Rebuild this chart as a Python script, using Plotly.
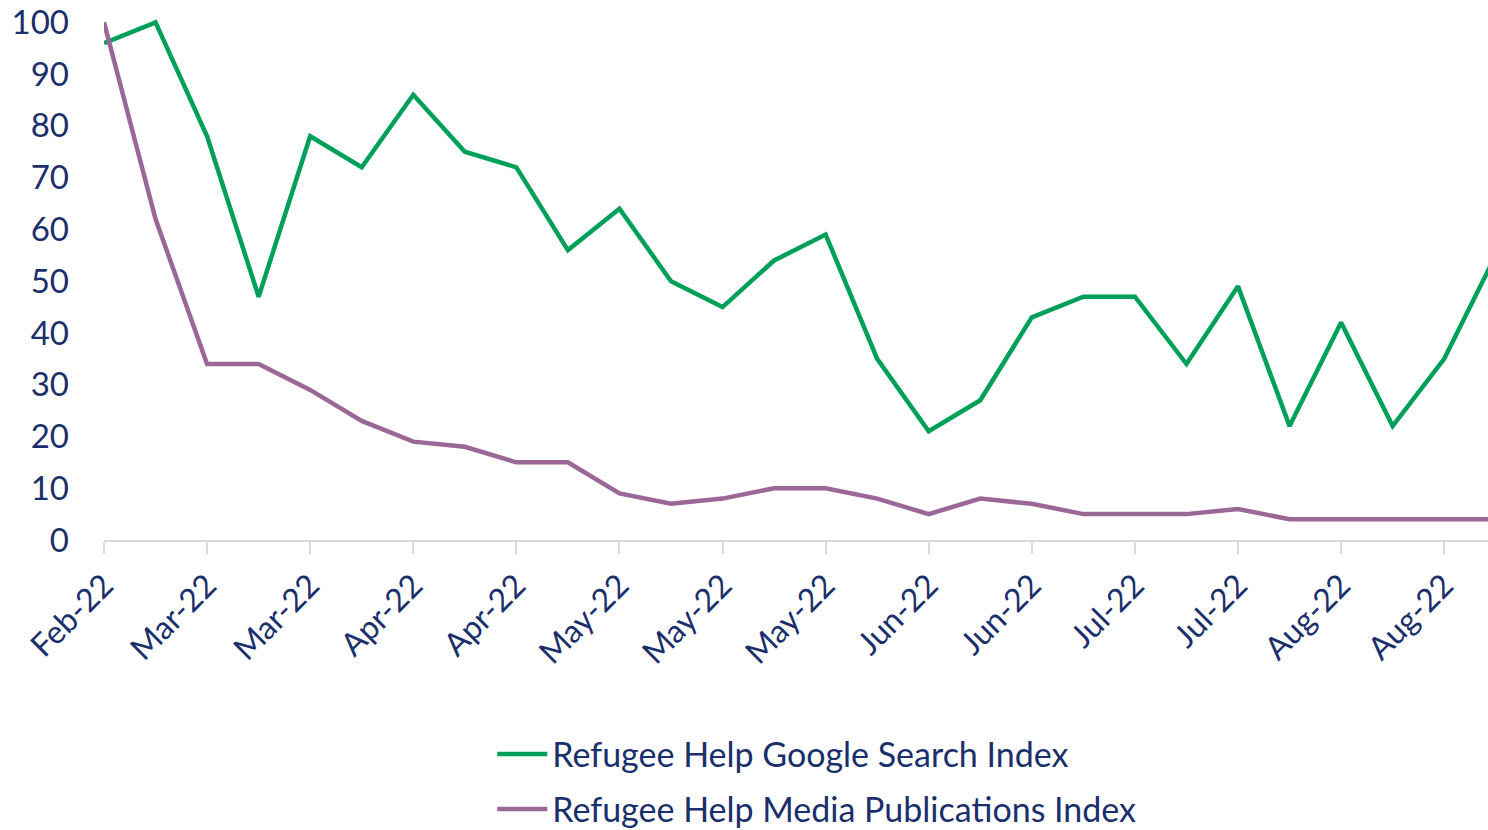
import plotly.graph_objects as go
import pandas as pd

weeks = pd.date_range("2022-02-20", periods=28, freq="7D")
google_index = [96, 100, 78, 47, 78, 72, 86, 75, 72, 56, 64, 50, 45, 54, 59, 35,
                21, 27, 43, 47, 47, 34, 49, 22, 42, 22, 35, 55]
media_index = [100, 62, 34, 34, 29, 23, 19, 18, 15, 15, 9, 7, 8, 10, 10, 8,
               5, 8, 7, 5, 5, 5, 6, 4, 4, 4, 4, 4]
tick_dates = list(weeks[::2])
tick_labels = [d.strftime("%b-%y") for d in tick_dates]

NAVY = "#1a2f6b"
GREEN = "#00a05a"
PURPLE = "#9b6796"
FONT = "Lato"

fig = go.Figure()
fig.add_trace(go.Scatter(x=weeks, y=google_index, mode="lines",
                         name="Refugee Help Google Search Index", legendgroup="g",
                         line=dict(color=GREEN, width=4.5)))
fig.add_trace(go.Scatter(x=weeks, y=media_index, mode="lines",
                         name="Refugee Help Media Publications Index", legendgroup="m",
                         line=dict(color=PURPLE, width=4.5)))

x_start = weeks[0].strftime("%Y-%m-%d %H:%M:%S")
x_end = (weeks[0] + pd.Timedelta(days=7 * 26.85)).strftime("%Y-%m-%d %H:%M:%S")
fig.update_layout(
    width=1488, height=830,
    margin=dict(l=104, r=0, t=12, b=290, autoexpand=False),
    paper_bgcolor="white", plot_bgcolor="white",
    font=dict(family=FONT, color=NAVY, size=32),
    showlegend=True,
    legend=dict(orientation="v", x=0.515, xanchor="center", y=-0.458,
                yanchor="middle", font=dict(size=34, color=NAVY),
                itemwidth=50, tracegroupgap=8, bgcolor="rgba(0,0,0,0)"),
    xaxis=dict(range=[x_start, x_end], tickmode="array", automargin=False,
               tickvals=[d.strftime("%Y-%m-%d") for d in tick_dates],
               ticktext=tick_labels, tickangle=-45,
               showgrid=False, showline=True, linecolor="#d9d9d9", linewidth=2,
               ticks="outside", ticklen=12, tickcolor="#d9d9d9", tickwidth=2,
               tickfont=dict(size=32, color=NAVY), zeroline=False),
    yaxis=dict(range=[0, 102], tickvals=list(range(0, 101, 10)), automargin=False,
               showgrid=False, showline=False, zeroline=False,
               ticks="", ticklabelstandoff=34, ticklabeloverflow="allow",
               tickfont=dict(size=33, color=NAVY)),
)
fig.write_html("out.html", config={"displayModeBar": False},
               post_script="document.body.style.margin='0px';"
                           "document.body.style.overflow='hidden';")
